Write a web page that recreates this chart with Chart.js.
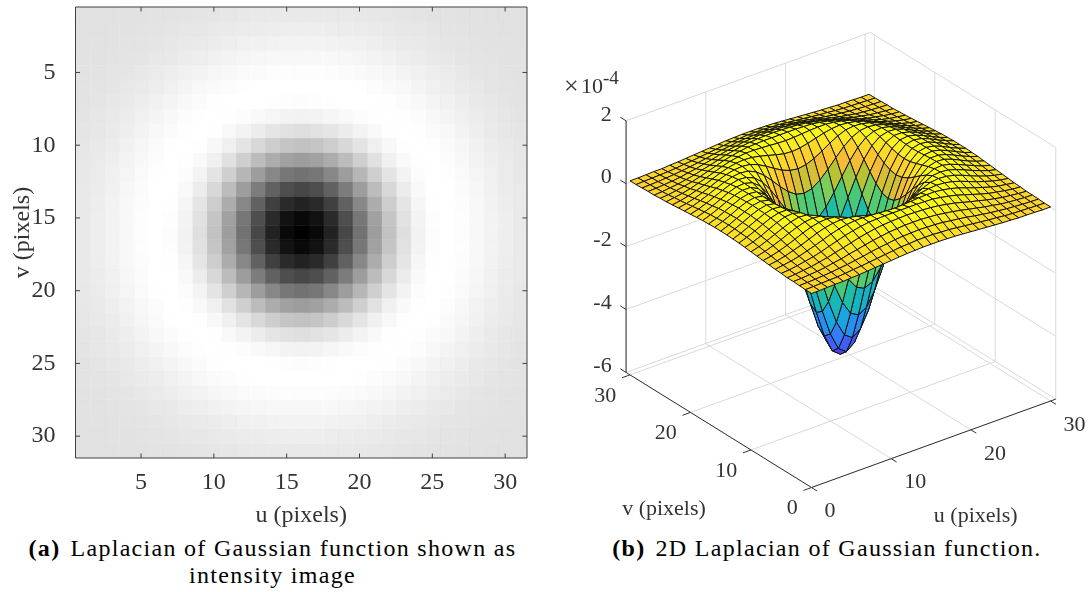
<!DOCTYPE html>
<html>
<head>
<meta charset="utf-8">
<title>Laplacian of Gaussian</title>
<script src="https://cdn.jsdelivr.net/npm/chart.js@4/dist/chart.umd.min.js"></script>
<style>
  html, body { margin: 0; padding: 0; background: #fff; overflow: hidden; }
  canvas { position: absolute; top: 0; }
  #image-chart { left: 0; }
  #surface-chart { left: 545px; }
  .caption {
    position: absolute;
    font-family: "Liberation Serif", serif;
    font-size: 24px;
    letter-spacing: 1.3px;
    color: #000;
    white-space: nowrap;
    text-align: center;
  }
  .caption b { margin-right: 10px; }
</style>
</head>
<body>
<canvas id="image-chart" width="545" height="535"></canvas>
<canvas id="surface-chart" width="544" height="535"></canvas>
<div class="caption" style="left:0;width:545px;top:535px;">
  <b>(a)</b>Laplacian of Gaussian function shown as<br>intensity image
</div>
<div class="caption" style="left:555px;width:544px;top:535px;">
  <b>(b)</b>2D Laplacian of Gaussian function.
</div>

<script>
// function values in units of 1e-4.
// one quadrant only: rows and columns count pixels away from the centre,
// the picture is symmetric about it.
const quadrantRow0  = [-4.93,-4.73,-4.16,-3.32,-2.35,-1.38,-0.53,0.13,0.56,0.79,0.85,0.81,0.70,0.58,0.46,0.36];
const quadrantRow1  = [-4.73,-4.53,-3.98,-3.17,-2.23,-1.29,-0.47,0.17,0.58,0.80,0.85,0.80,0.70,0.57,0.46,0.36];
const quadrantRow2  = [-4.16,-3.98,-3.48,-2.74,-1.88,-1.03,-0.29,0.27,0.64,0.82,0.85,0.79,0.68,0.56,0.44,0.35];
const quadrantRow3  = [-3.32,-3.17,-2.74,-2.11,-1.38,-0.66,-0.04,0.42,0.71,0.84,0.84,0.77,0.66,0.54,0.43,0.34];
const quadrantRow4  = [-2.35,-2.23,-1.88,-1.38,-0.80,-0.24,0.24,0.58,0.78,0.85,0.83,0.74,0.62,0.50,0.40,0.32];
const quadrantRow5  = [-1.38,-1.29,-1.03,-0.66,-0.24,0.17,0.50,0.72,0.83,0.85,0.79,0.69,0.58,0.47,0.37,0.30];
const quadrantRow6  = [-0.53,-0.47,-0.29,-0.04,0.24,0.50,0.70,0.82,0.85,0.82,0.74,0.64,0.53,0.43,0.34,0.28];
const quadrantRow7  = [0.13,0.17,0.27,0.42,0.58,0.72,0.82,0.85,0.83,0.77,0.68,0.57,0.47,0.38,0.31,0.26];
const quadrantRow8  = [0.56,0.58,0.64,0.71,0.78,0.83,0.85,0.83,0.78,0.70,0.60,0.50,0.42,0.34,0.28,0.24];
const quadrantRow9  = [0.79,0.80,0.82,0.84,0.85,0.85,0.82,0.77,0.70,0.61,0.52,0.44,0.36,0.30,0.26,0.22];
const quadrantRow10 = [0.85,0.85,0.85,0.84,0.83,0.79,0.74,0.68,0.60,0.52,0.44,0.37,0.32,0.27,0.23,0.21];
const quadrantRow11 = [0.81,0.80,0.79,0.77,0.74,0.69,0.64,0.57,0.50,0.44,0.37,0.32,0.27,0.24,0.21,0.19];
const quadrantRow12 = [0.70,0.70,0.68,0.66,0.62,0.58,0.53,0.47,0.42,0.36,0.32,0.27,0.24,0.22,0.20,0.19];
const quadrantRow13 = [0.58,0.57,0.56,0.54,0.50,0.47,0.43,0.38,0.34,0.30,0.27,0.24,0.22,0.20,0.19,0.18];
const quadrantRow14 = [0.46,0.46,0.44,0.43,0.40,0.37,0.34,0.31,0.28,0.26,0.23,0.21,0.20,0.19,0.18,0.17];
const quadrantRow15 = [0.36,0.36,0.35,0.34,0.32,0.30,0.28,0.26,0.24,0.22,0.21,0.19,0.19,0.18,0.17,0.17];

const quadrant = [quadrantRow0, quadrantRow1, quadrantRow2, quadrantRow3, quadrantRow4, quadrantRow5,
  quadrantRow6, quadrantRow7, quadrantRow8, quadrantRow9, quadrantRow10, quadrantRow11,
  quadrantRow12, quadrantRow13, quadrantRow14, quadrantRow15];

// tick labels
const imageTicks = [5, 10, 15, 20, 25, 30];
const surfaceTicks = [0, 10, 20, 30];
const heightTicks = [-6, -4, -2, 0, 2];

// colour map of the surface: [position, r, g, b]
const surfaceColors = [
  [0.00, 68, 52, 225], [0.10, 72, 75, 245], [0.25, 50, 125, 250], [0.38, 25, 165, 225],
  [0.50, 20, 185, 180], [0.60, 60, 200, 130], [0.68, 130, 205, 85], [0.74, 185, 195, 50],
  [0.80, 240, 186, 55], [0.84, 253, 195, 48], [0.88, 253, 208, 45], [0.92, 250, 226, 36],
  [0.96, 250, 240, 30], [1.00, 255, 255, 18]
];

const COUNT = 31;
const CENTER = 15;
const LIMIT = 30.65;
const BASE = -6;
const TOP = 2;
const FONT = '"Liberation Serif", serif';
const TEXT_COLOR = '#333';

// 전체 격자
const grid = [];
for (let row = 0; row < COUNT; row++) {
  grid.push([]);
  for (let col = 0; col < COUNT; col++) {
    grid[row].push(quadrant[Math.abs(row - CENTER)][Math.abs(col - CENTER)]);
  }
}
const lowest = Math.min(...grid.flat());
const highest = Math.max(...grid.flat());

function fraction(z) {
  return (z - lowest) / (highest - lowest);
}

function grayColor(z) {
  const level = Math.round(fraction(z) * 255);
  return `rgb(${level},${level},${level})`;
}

function surfaceColor(z) {
  const f = fraction(z);
  for (let i = 1; i < surfaceColors.length; i++) {
    const a = surfaceColors[i - 1];
    const b = surfaceColors[i];
    if (f <= b[0]) {
      const k = (f - a[0]) / (b[0] - a[0]);
      const mix = n => Math.round(a[n] + (b[n] - a[n]) * k);
      return `rgb(${mix(1)},${mix(2)},${mix(3)})`;
    }
  }
  return 'rgb(255,255,18)';
}

// ---- left panel: intensity image ----
// 셀 하나가 dataset 하나 (사각형으로 채움)
const cellSets = [];
for (let row = 0; row < COUNT; row++) {
  for (let col = 0; col < COUNT; col++) {
    const color = grayColor(grid[row][col]);
    const x = col + 1;
    const y = row + 1;
    cellSets.push({
      data: [
        { x: x - 0.5, y: y - 0.5 },
        { x: x + 0.5, y: y - 0.5 },
        { x: x + 0.5, y: y + 0.5 },
        { x: x - 0.5, y: y + 0.5 },
        { x: x - 0.5, y: y - 0.5 }
      ],
      showLine: true,
      pointRadius: 0,
      fill: 'shape',
      backgroundColor: color,
      borderColor: color,
      borderWidth: 0.5
    });
  }
}

const imageFrame = {
  id: 'imageFrame',
  afterDatasetsDraw(chart) {
    const { ctx, chartArea: area, scales: { x, y } } = chart;
    const tick = 4.5;
    ctx.save();
    ctx.strokeStyle = '#404040';
    ctx.lineWidth = 1;
    ctx.beginPath();
    imageTicks.forEach(value => {
      const px = x.getPixelForValue(value);
      ctx.moveTo(px, area.top); ctx.lineTo(px, area.top + tick);
      ctx.moveTo(px, area.bottom); ctx.lineTo(px, area.bottom - tick);
      const py = y.getPixelForValue(value);
      ctx.moveTo(area.left, py); ctx.lineTo(area.left + tick, py);
      ctx.moveTo(area.right, py); ctx.lineTo(area.right - tick, py);
    });
    ctx.rect(area.left, area.top, area.right - area.left, area.bottom - area.top);
    ctx.stroke();
    ctx.restore();
  }
};

function imageAxis(title, position, tickPadding, titleTop, titleBottom) {
  return {
    type: 'linear',
    min: 0.5,
    max: 31.5,
    position: position,
    grid: { display: false },
    border: { display: false },
    afterBuildTicks: scale => { scale.ticks = imageTicks.map(value => ({ value })); },
    ticks: {
      autoSkip: false,
      maxRotation: 0,
      padding: tickPadding,
      color: TEXT_COLOR,
      font: { family: FONT, size: 24 },
      callback: value => String(value)
    },
    title: {
      display: true,
      text: title,
      color: TEXT_COLOR,
      font: { family: FONT, size: 24 },
      padding: { top: titleTop, bottom: titleBottom }
    }
  };
}

const imageX = imageAxis('u (pixels)', 'bottom', 2.5, 0, 5);
imageX.afterFit = scale => {
  scale.height = 77;
  scale.paddingLeft = 0;
  scale.paddingRight = 0;
};
const imageY = imageAxis('v (pixels)', 'left', 12, 8, 0);
imageY.reverse = true;
imageY.afterFit = scale => {
  scale.width = 75.5;
  scale.paddingTop = 0;
  scale.paddingBottom = 0;
};

new Chart(document.getElementById('image-chart'), {
  type: 'scatter',
  data: { datasets: cellSets },
  options: {
    responsive: false,
    animation: false,
    devicePixelRatio: 1,
    events: [],
    layout: { padding: { top: 7, right: 18, left: 0, bottom: 0 } },
    plugins: { legend: { display: false }, tooltip: { enabled: false } },
    scales: { x: imageX, y: imageY }
  },
  plugins: [imageFrame]
});

// ---- right panel: surface ----
function project(u, v, z) {
  return {
    x: 811.5 + 7.97 * u - 6.05 * v,
    y: 487.5 - 2.884 * u - 3.755 * v - 31.45 * (z - BASE)
  };
}

function lineSet(corners, color) {
  return {
    data: corners.map(c => project(c[0], c[1], c[2])),
    showLine: true,
    pointRadius: 0,
    borderColor: color,
    borderWidth: 1,
    fill: false
  };
}

// 면: 가까운 것부터 (dataset 0 이 맨 위에 그려짐), 색은 첫 꼭짓점 값
const faces = [];
for (let row = 0; row < COUNT - 1; row++) {
  for (let col = 0; col < COUNT - 1; col++) {
    faces.push({
      depth: 6.05 * (col + 0.5) + 7.97 * (row + 0.5),
      dataset: {
        data: [
          project(col, row, grid[row][col]),
          project(col + 1, row, grid[row][col + 1]),
          project(col + 1, row + 1, grid[row + 1][col + 1]),
          project(col, row + 1, grid[row + 1][col]),
          project(col, row, grid[row][col])
        ],
        showLine: true,
        pointRadius: 0,
        fill: 'shape',
        backgroundColor: surfaceColor(grid[row][col]),
        borderColor: '#111',
        borderWidth: 1,
        borderJoinStyle: 'round'
      }
    });
  }
}
faces.sort((a, b) => a.depth - b.depth);

const axisSets = [
  lineSet([[0, 0, BASE], [0, LIMIT, BASE]], TEXT_COLOR),
  lineSet([[0, 0, BASE], [LIMIT, 0, BASE]], TEXT_COLOR),
  lineSet([[0, LIMIT, BASE], [0, LIMIT, TOP]], TEXT_COLOR)
];
surfaceTicks.forEach(value => {
  axisSets.push(lineSet([[value, 0, BASE], [value, -0.9, BASE]], TEXT_COLOR));
  axisSets.push(lineSet([[0, value, BASE], [-1, value, BASE]], TEXT_COLOR));
});
heightTicks.forEach(value => {
  axisSets.push(lineSet([[0, LIMIT, value], [0, LIMIT + 0.95, value]], TEXT_COLOR));
});

const gridSets = [];
const GRID_COLOR = '#d9d9d9';
surfaceTicks.forEach(value => {
  gridSets.push(lineSet([[value, 0, BASE], [value, LIMIT, BASE], [value, LIMIT, TOP]], GRID_COLOR));
  gridSets.push(lineSet([[0, value, BASE], [LIMIT, value, BASE], [LIMIT, value, TOP]], GRID_COLOR));
});
heightTicks.forEach(value => {
  gridSets.push(lineSet([[0, LIMIT, value], [LIMIT, LIMIT, value], [LIMIT, 0, value]], GRID_COLOR));
});

const surfaceLabels = {
  id: 'surfaceLabels',
  afterDraw(chart) {
    const { ctx, scales: { x, y } } = chart;
    const put = (text, px, py, align, size) => {
      ctx.font = `${size}px ${FONT}`;
      ctx.textAlign = align;
      ctx.fillText(text, x.getPixelForValue(px), y.getPixelForValue(py));
    };
    ctx.save();
    ctx.fillStyle = TEXT_COLOR;
    ctx.textBaseline = 'middle';
    heightTicks.forEach(value => {
      const p = project(0, LIMIT, value);
      put(String(value), 611.7, p.y - 6, 'right', 22);
    });
    surfaceTicks.forEach(value => {
      const pv = project(0, value, BASE);
      put(String(value), pv.x - 13.7, pv.y + 21, 'right', 22);
      const pu = project(value, 0, BASE);
      put(String(value), pu.x + 13, pu.y + 24, 'left', 22);
    });
    put('v (pixels)', 664, 509, 'center', 22);
    put('u (pixels)', 975.7, 516, 'center', 22);
    put('\u00d7', 564, 87, 'left', 26);
    put('10', 581, 87, 'left', 22);
    put('-4', 603, 79, 'left', 19);
    ctx.restore();
  }
};

new Chart(document.getElementById('surface-chart'), {
  type: 'scatter',
  data: { datasets: faces.map(f => f.dataset).concat(axisSets, gridSets) },
  options: {
    responsive: false,
    animation: false,
    devicePixelRatio: 1,
    events: [],
    plugins: { legend: { display: false }, tooltip: { enabled: false } },
    scales: {
      x: { type: 'linear', min: 545, max: 1089, display: false },
      y: { type: 'linear', min: 0, max: 535, reverse: true, display: false }
    }
  },
  plugins: [surfaceLabels]
});
</script>
</body>
</html>
